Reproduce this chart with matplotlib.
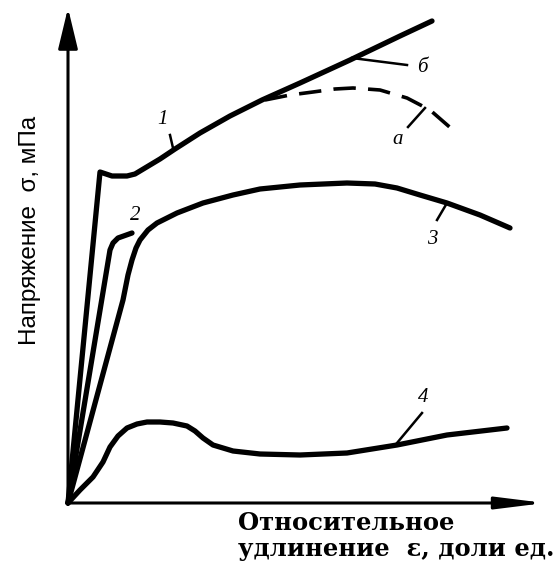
import matplotlib
matplotlib.use("Agg")
from matplotlib import pyplot as plt

# кривые растяжения (условные единицы: деформация, напряжение)
eps_1 = [0, 32, 44, 59, 67, 77, 92, 107, 132, 162, 194, 232, 282, 332, 364]
sig_1 = [0, 331, 327, 327, 329, 335, 344, 354, 370, 387, 403, 420, 443, 467, 482]

eps_a = [197, 222, 245, 267, 285, 312, 339, 362, 385]
sig_a = [403, 408, 411, 414, 415, 413, 405, 393, 373]

eps_2 = [0, 42, 45, 50, 64]
sig_2 = [0, 253, 260, 265, 270]

eps_3 = [0, 55, 60, 64, 68, 72, 80, 89, 109, 135, 165, 192, 232, 279, 307, 329, 352, 379, 412, 442]
sig_3 = [0, 203, 228, 243, 255, 263, 273, 280, 290, 300, 308, 314, 318, 320, 319, 315, 308, 300, 288, 275]

eps_4 = [0, 12, 25, 35, 42, 50, 59, 69, 79, 92, 105, 119, 127, 135, 145, 165, 192, 232, 279, 329, 379, 439]
sig_4 = [0, 13, 26, 41, 56, 67, 75, 79, 81, 81, 80, 77, 72, 65, 58, 52, 49, 48, 50, 58, 68, 75]

# подписи кривых: текст, положение текста, отрезок-выноска
labels = ["1", "2", "3", "4", "а", "б"]
label_pos = [(94, 383), (67, 288), (364, 263), (355, 105), (330, 363), (354, 435)]
leaders = [((105, 355), (102, 368)), None, ((379, 300), (369, 283)),
           ((329, 60), (354, 90)), ((357, 395), (340, 376)), ((284, 445), (339, 438))]

fig = plt.figure(figsize=(5.57, 5.62), dpi=100)
ax = fig.add_axes([0, 0, 1, 1])
ax.set_xlim(-68, 489)
ax.set_ylim(-59, 503)
ax.axis("off")

lw = 3.8
style = dict(color="black", lw=lw, solid_capstyle="round", solid_joinstyle="round")
ax.plot(eps_1, sig_1, **style)
ax.plot(eps_a, sig_a, color="black", lw=2.6, dashes=(6.2, 3.4))
ax.plot(eps_2, sig_2, **style)
ax.plot(eps_3, sig_3, **style)
ax.plot(eps_4, sig_4, **style)

for txt, pos, ld in zip(labels, label_pos, leaders):
    ax.text(pos[0], pos[1], txt, fontsize=15, style="italic", family="Liberation Serif",
            ha="center", va="center")
    if ld is not None:
        ax.plot([ld[0][0], ld[1][0]], [ld[0][1], ld[1][1]], color="black", lw=1.8)

# оси со стрелками
ax.annotate("", xy=(0, 495), xytext=(0, -1),
            arrowprops=dict(arrowstyle="-|>,head_length=2.5,head_width=0.6",
                            mutation_scale=10, lw=2.2, color="black", shrinkA=0, shrinkB=0))
ax.annotate("", xy=(477, 0), xytext=(-1, 0),
            arrowprops=dict(arrowstyle="-|>,head_length=2.9,head_width=0.36",
                            mutation_scale=10, lw=2.2, color="black", shrinkA=0, shrinkB=0))

ax.text(-38, 273, "Напряжение  σ, мПа", rotation=90, fontsize=17.5,
        family=["Liberation Sans", "DejaVu Sans"], ha="center", va="center")
ax.text(170, -20, "Относительное", fontsize=17.5, fontweight="bold",
        family="DejaVu Serif", ha="left", va="center")
ax.text(170, -46, "удлинение  ε, доли ед.", fontsize=17.5, fontweight="bold",
        family="DejaVu Serif", ha="left", va="center")

plt.savefig("out.png", dpi=100)
